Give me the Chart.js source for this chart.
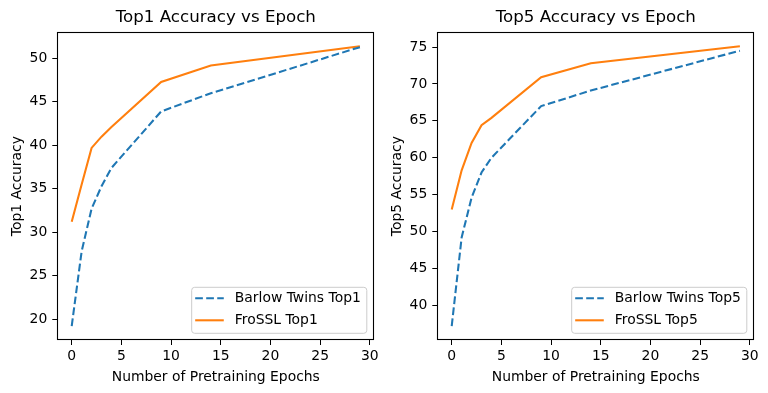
<!DOCTYPE html>
<html>
<head>
<meta charset="utf-8">
<script src="https://cdn.jsdelivr.net/npm/chart.js@4"></script>
<style>
  body { margin: 0; background: #fff; }
  .panel { position: absolute; top: 0; width: 384px; height: 393px; }
</style>
</head>
<body>
<div class="panel" style="left:0"><canvas id="top1" width="384" height="393"></canvas></div>
<div class="panel" style="left:384px"><canvas id="top5" width="384" height="393"></canvas></div>
<script>
const epochs = [0, 1, 2, 3, 4, 9, 14, 29];
const barlowTop1 = [19.2, 27.8, 32.7, 35.3, 37.4, 43.9, 46.0, 51.3];
const frosslTop1 = [31.2, 35.5, 39.7, 41.0, 42.1, 47.3, 49.2, 51.4];
const barlowTop5 = [37.2, 49.2, 54.6, 58.0, 60.0, 67.0, 69.1, 74.5];
const frosslTop5 = [53.0, 58.3, 62.0, 64.4, 65.4, 70.9, 72.8, 75.1];
const xTicks = [0, 5, 10, 15, 20, 25, 30];
const top1Ticks = [20, 25, 30, 35, 40, 45, 50];
const top5Ticks = [40, 45, 50, 55, 60, 65, 70, 75];

const BLUE = '#1f77b4';
const ORANGE = '#ff7f0e';

Chart.defaults.font.family = "'DejaVu Sans', sans-serif";
Chart.defaults.font.size = 13.9;
Chart.defaults.color = '#000';

function points(vals) {
    return epochs.map((e, i) => ({ x: e, y: vals[i] }));
}

// matplotlib style 5% margins
function limits(arrs) {
    const all = [].concat(...arrs);
    const lo = Math.min(...all), hi = Math.max(...all);
    const m = (hi - lo) * 0.05;
    return [lo - m, hi + m];
}

// axes frame + legend box in lower right
const frameAndLegend = {
    id: 'frameAndLegend',
    afterDatasetsDraw(chart) {
        const { ctx, chartArea: a } = chart;
        ctx.save();
        ctx.strokeStyle = '#000';
        ctx.lineWidth = 1.1;
        ctx.strokeRect(Math.round(a.left) + 0.5, Math.round(a.top) + 0.5,
            Math.round(a.right - a.left) - 1, Math.round(a.bottom - a.top) - 1);

        const sets = chart.data.datasets;
        ctx.font = "13.9px 'DejaVu Sans', sans-serif";
        const textW = Math.max(...sets.map(d => ctx.measureText(d.label).width));
        const w = 3.5 + 28.6 + 11 + textW + 6;
        const h = 46;
        const right = a.right - 7.5;
        const bottom = a.bottom - 6.7;
        const left = right - w;
        const top = bottom - h;

        ctx.beginPath();
        ctx.roundRect(left, top, w, h, 3);
        ctx.fillStyle = 'rgba(255,255,255,0.8)';
        ctx.fill();
        ctx.lineWidth = 1;
        ctx.strokeStyle = '#cccccc';
        ctx.stroke();

        sets.forEach((d, i) => {
            const y = top + 11 + i * 22;
            ctx.beginPath();
            ctx.setLineDash(d.borderDash || []);
            ctx.strokeStyle = d.borderColor;
            ctx.lineWidth = d.borderWidth;
            ctx.moveTo(left + 3.5, y);
            ctx.lineTo(left + 32.1, y);
            ctx.stroke();
            ctx.setLineDash([]);
            ctx.fillStyle = '#000';
            ctx.textBaseline = 'middle';
            ctx.textAlign = 'left';
            ctx.fillText(d.label, left + 43.1, y);
        });
        ctx.restore();
    }
};

function makeChart(id, title, yLabel, barlow, frossl, yTicks, yWidth, padRight, yTitlePad, labels) {
    const [yMin, yMax] = limits([barlow, frossl]);
    new Chart(document.getElementById(id), {
        type: 'line',
        data: {
            datasets: [
                {
                    label: labels[0],
                    data: points(barlow),
                    borderColor: BLUE,
                    borderWidth: 2.08,
                    borderDash: [7.7, 3.33],
                    pointRadius: 0,
                    tension: 0
                },
                {
                    label: labels[1],
                    data: points(frossl),
                    borderColor: ORANGE,
                    borderWidth: 2.08,
                    pointRadius: 0,
                    tension: 0
                }
            ]
        },
        options: {
            responsive: false,
            animation: false,
            devicePixelRatio: 1,
            layout: { padding: { left: 0, right: padRight, top: 0, bottom: 0 } },
            plugins: {
                legend: { display: false },
                tooltip: { enabled: false },
                title: {
                    display: true,
                    text: title,
                    fullSize: false,
                    font: { size: 16.67, weight: 'normal', lineHeight: 1.2 },
                    padding: { top: 8, bottom: 4.3 }
                }
            },
            scales: {
                x: {
                    type: 'linear',
                    min: -1.45,
                    max: 30.45,
                    afterBuildTicks: axis => { axis.ticks = xTicks.map(v => ({ value: v })); },
                    afterFit: axis => { axis.height = 53; },
                    grid: { drawOnChartArea: false, drawTicks: true, tickLength: 5, color: '#000' },
                    border: { display: false },
                    ticks: { padding: 3, maxRotation: 0 },
                    title: {
                        display: true,
                        text: 'Number of Pretraining Epochs',
                        font: { size: 13.9, lineHeight: 1.2 },
                        padding: { top: 0, bottom: 7.2 }
                    }
                },
                y: {
                    min: yMin,
                    max: yMax,
                    afterBuildTicks: axis => { axis.ticks = yTicks.map(v => ({ value: v })); },
                    afterFit: axis => { axis.width = yWidth; },
                    grid: { drawOnChartArea: false, drawTicks: true, tickLength: 5, color: '#000' },
                    border: { display: false },
                    ticks: { padding: 5 },
                    title: {
                        display: true,
                        text: yLabel,
                        font: { size: 13.9, lineHeight: 1.2 },
                        padding: { top: yTitlePad, bottom: 0 }
                    }
                }
            }
        },
        plugins: [frameAndLegend]
    });
}

makeChart('top1', 'Top1 Accuracy vs Epoch', 'Top1 Accuracy', barlowTop1, frosslTop1,
    top1Ticks, 57.3, 9.7, 8.6, ['Barlow Twins Top1', 'FroSSL Top1']);
makeChart('top5', 'Top5 Accuracy vs Epoch', 'Top5 Accuracy', barlowTop5, frosslTop5,
    top5Ticks, 53.3, 13.7, 4.6, ['Barlow Twins Top5', 'FroSSL Top5']);
</script>
</body>
</html>
